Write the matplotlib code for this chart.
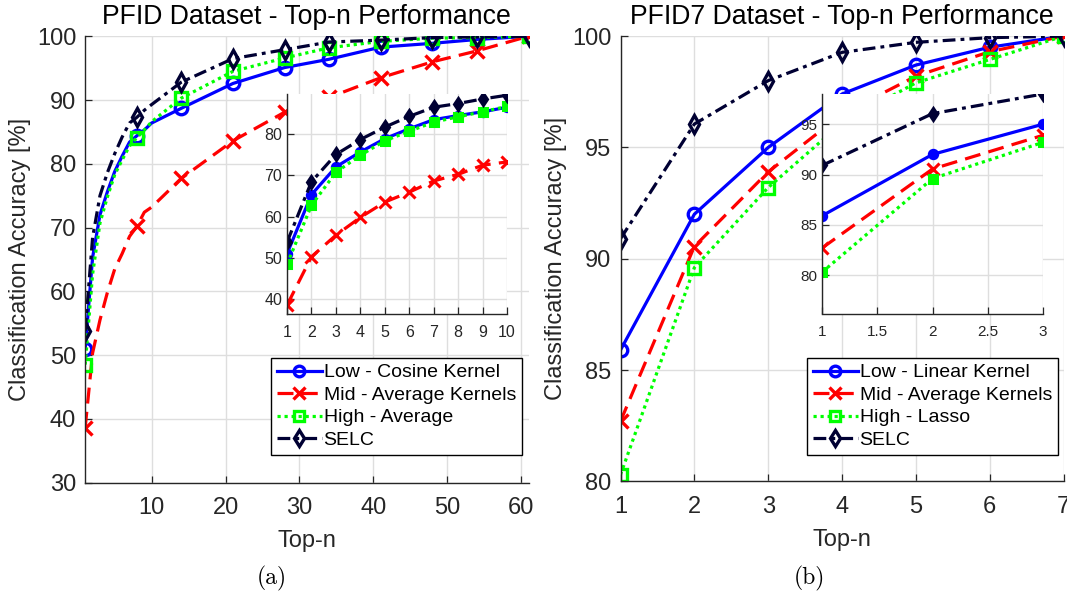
import numpy as np
import matplotlib.pyplot as plt

plt.rcParams['font.family'] = ['Liberation Sans', 'DejaVu Sans']

# ---- PFID (61 classes): n = 1..10, rest at marker positions
topn_pfid = [1, 2, 3, 4, 5, 6, 7, 8, 9, 10, 14, 21, 28, 34, 41, 48, 54, 61]
pfid_low  = [51.0, 65.3, 72.0, 75.6, 78.8, 81.2, 83.4, 84.4, 85.3, 86.4,
             88.7, 92.6, 95.1, 96.4, 98.3, 98.9, 99.5, 100.0]
pfid_mid  = [38.6, 50.3, 55.5, 59.8, 63.5, 65.9, 68.6, 70.2, 72.4, 73.2,
             77.7, 83.6, 88.1, 90.4, 93.5, 96.0, 97.7, 100.0]
pfid_high = [48.5, 62.7, 70.7, 74.8, 78.3, 80.6, 82.8, 84.1, 85.3, 86.6,
             90.3, 94.5, 96.6, 98.2, 99.2, 99.7, 99.8, 100.0]
pfid_selc = [53.8, 68.4, 75.0, 78.6, 81.6, 84.2, 86.4, 87.3, 88.4, 89.3,
             92.8, 96.5, 97.9, 99.1, 99.4, 99.8, 99.9, 100.0]
pfid_marks = [0, 7, 10, 11, 12, 13, 14, 15, 16, 17]

# ---- PFID7 (7 classes)
topn_pfid7 = [1, 2, 3, 4, 5, 6, 7]
pfid7_low  = [85.9, 92.0, 95.0, 97.4, 98.7, 99.5, 100.0]
pfid7_mid  = [82.7, 90.55, 93.9, 96.5, 98.2, 99.3, 100.0]
pfid7_high = [80.3, 89.6, 93.2, 96.1, 97.9, 98.95, 100.0]
pfid7_selc = [90.9, 96.05, 98.0, 99.27, 99.72, 99.93, 100.0]

names_a = ['Low - Cosine Kernel', 'Mid - Average Kernels', 'High - Average', 'SELC']
names_b = ['Low - Linear Kernel', 'Mid - Average Kernels', 'High - Lasso', 'SELC']

styles = [dict(color='#0000ff', ls='-', marker='o'),
          dict(color='#ff0000', ls=(0, (5, 2.6)), marker='x'),
          dict(color='#00ff00', ls=(0, (1, 1.2)), marker='s'),
          dict(color='#000033', ls=(0, (4, 1.6, 1.2, 1.6)), marker='d')]
AX = '#262626'
GRID = '#dedede'

W, H = 1067, 594
fig = plt.figure(figsize=(W / 100, H / 100), dpi=100)


def frac(x0, y0, x1, y1):
    return [x0 / W, 1 - y1 / H, (x1 - x0) / W, (y1 - y0) / H]


def style_axes(ax, size):
    for s in ['top', 'right']:
        ax.spines[s].set_visible(False)
    for s in ['left', 'bottom']:
        ax.spines[s].set_color(AX)
        ax.spines[s].set_linewidth(1.0)
    ax.tick_params(direction='in', colors=AX, labelsize=size, length=5, width=0.9)
    ax.grid(True, color=GRID, lw=1.0)
    ax.set_axisbelow(True)


def main_panel(rect, x, series, marks, names, title, xlim, ylim, xt, yt, leg_rect):
    ax = fig.add_axes(frac(*rect))
    style_axes(ax, 17)
    ax.tick_params(axis='x', pad=10.5)
    ax.tick_params(axis='y', pad=6.5)
    for y, st, name in zip(series, styles, names):
        ax.plot(x, y, color=st['color'], ls=st['ls'], lw=2.3, marker=st['marker'],
                ms=9 if st['marker'] != 'x' else 10, mfc='none', mew=2.4,
                markevery=marks, label=name)
    ax.set_xlim(*xlim)
    ax.set_ylim(*ylim)
    ax.set_xticks(xt)
    ax.set_yticks(yt)
    fig.text((rect[0] + rect[2]) / 2 / W, 1 - 24.2 / H, title, fontsize=19.2,
             ha='center', va='baseline')
    ax.set_xlabel('Top-n', fontsize=17, color=AX, labelpad=8)
    ax.set_ylabel('Classification Accuracy [%]', fontsize=17, color=AX, labelpad=4)
    x0, y0, x1, y1 = leg_rect
    leg = ax.legend(loc='upper left', bbox_to_anchor=(
        (x0 - rect[0]) / (rect[2] - rect[0]), 1 - (y0 - rect[1]) / (rect[3] - rect[1])),
        fontsize=14, frameon=True, fancybox=False, framealpha=1,
        edgecolor='black', handlelength=2.3, handletextpad=0.1,
        borderpad=0.3, labelspacing=0.25, borderaxespad=0, markerscale=0.85)
    leg.get_frame().set_linewidth(1.0)
    leg.set_zorder(20)
    return ax


def inset_panel(rect, x, series, xlim, ylim, xt, yt, size):
    ax = fig.add_axes(frac(*rect))
    ax.set_zorder(10)
    style_axes(ax, size)
    for y, st in zip(series, styles):
        ax.plot(x, y, color=st['color'], ls=st['ls'], lw=2.3, marker=st['marker'],
                ms=6 if st['marker'] != 'x' else 8, mfc=st['color'], mew=2.2)
    ax.set_xlim(*xlim)
    ax.set_ylim(*ylim)
    ax.set_xticks(xt)
    ax.set_yticks(yt)
    ax.set_xticklabels([('%g' % v) for v in xt])
    ax.tick_params(axis='x', pad=8)
    return ax


# (a) PFID
main_panel((85.2, 36.3, 528.5, 482.5), topn_pfid,
           [pfid_low, pfid_mid, pfid_high, pfid_selc], pfid_marks, names_a,
           'PFID Dataset - Top-n Performance', (1, 61), (30, 100),
           [10, 20, 30, 40, 50, 60], [30, 40, 50, 60, 70, 80, 90, 100],
           (271, 358, 517, 471))
n10 = 10
inset_panel((287, 94, 507, 313.5), topn_pfid[:n10],
            [pfid_low[:n10], pfid_mid[:n10], pfid_high[:n10], pfid_selc[:n10]],
            (1, 10), (36.6, 89.6), list(range(1, 11)), [40, 50, 60, 70, 80], 11.5)

# (b) PFID7
main_panel((620.5, 36.1, 1063.6, 481.4), topn_pfid7,
           [pfid7_low, pfid7_mid, pfid7_high, pfid7_selc], None, names_b,
           'PFID7 Dataset - Top-n Performance', (1, 7), (80, 100),
           [1, 2, 3, 4, 5, 6, 7], [80, 85, 90, 95, 100],
           (807, 358, 1053, 471))
n3 = 3
inset_panel((822, 94, 1043, 313.5), topn_pfid7[:n3],
            [pfid7_low[:n3], pfid7_mid[:n3], pfid7_high[:n3], pfid7_selc[:n3]],
            (1, 3), (76.2, 98.0), [1, 1.5, 2, 2.5, 3], [80, 85, 90, 95], 11)

fig.text(272 / W, 1 - 578 / H, '(a)', fontsize=17, family='cmr10',
         ha='center', va='center')
fig.text(809 / W, 1 - 578 / H, '(b)', fontsize=17, family='cmr10',
         ha='center', va='center')

fig.savefig('out.png', dpi=100)
